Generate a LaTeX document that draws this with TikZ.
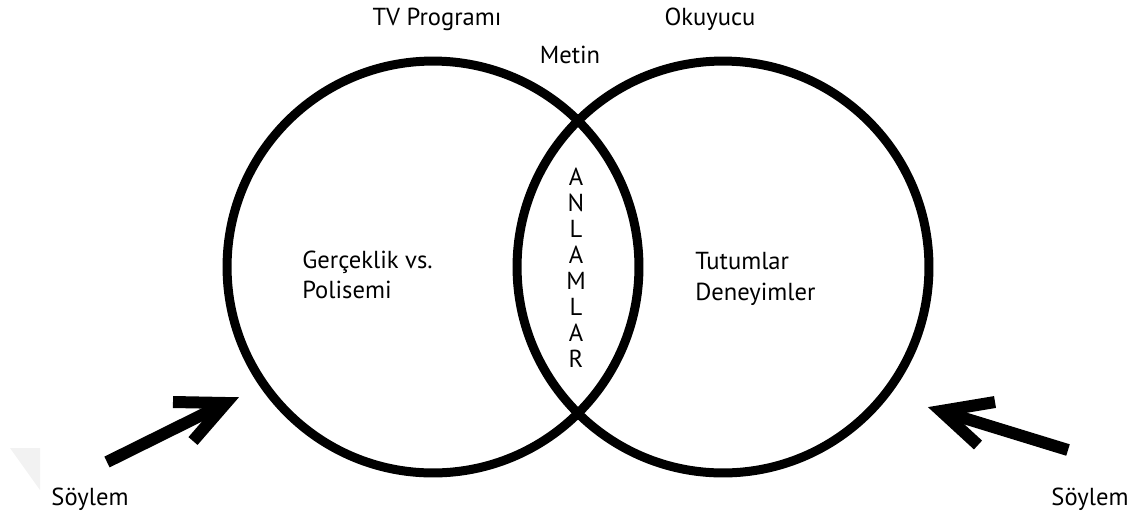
\documentclass[tikz,border=0pt]{standalone}
\usepackage{fontspec}
\setmainfont{PT Sans}
\usetikzlibrary{positioning}

\begin{document}
\begin{tikzpicture}[x=0.02cm,y=-0.02cm]
\tikzstyle{every node}+=[inner sep=0pt, font=\fontsize{14}{16}\selectfont]
\tikzstyle{ring}=[black, line width=0.18cm]
\tikzstyle{pointer}=[black, line width=0.24cm]
\useasboundingbox (0,0) rectangle (1141,518);
\fill [black!5] (10,448) -- (40,448) -- (40,490) -- cycle;
\draw [ring] (433,267) circle [radius=4.12cm];
\draw [ring] (723,267) circle [radius=4.12cm];
\node (tv) [anchor=base] at (437,25) {TV Programı};
\node (okuyucu) [anchor=base] at (710,25) {Okuyucu};
\node (metin) [anchor=base] at (570,63) {Metin};
\foreach \c [count=\i from 0] in {A,N,L,A,M,L,A,R}
  \node (harf\i) [anchor=base] at (576,{185+26*\i}) {\c};
\node (gercek) [anchor=base west] at (302,268) {Gerçeklik vs.};
\node (polisemi) [anchor=base west] at (302,298) {Polisemi};
\node (tutum) [anchor=base west] at (695,269) {Tutumlar};
\node (deneyim) [anchor=base west] at (695,300) {Deneyimler};
\node (soylemL) [anchor=base] at (90,505) {Söylem};
\node (soylemR) [anchor=base] at (1090,505) {Söylem};
\coordinate (kuyrukL) at (107,462);
\coordinate (ucL) at (226,403);
\coordinate (kanatL1) at (173,402);
\coordinate (kanatL2) at (193,441);
\draw [pointer] (kuyrukL) -- (ucL);
\draw [pointer, line join=miter] (kanatL1) -- (ucL) -- (kanatL2);
\coordinate (kuyrukR) at (1068,450);
\coordinate (ucR) at (941,411);
\coordinate (kanatR1) at (995,402);
\coordinate (kanatR2) at (978,445);
\draw [pointer] (kuyrukR) -- (ucR);
\draw [pointer, line join=miter] (kanatR1) -- (ucR) -- (kanatR2);
\end{tikzpicture}
\end{document}
